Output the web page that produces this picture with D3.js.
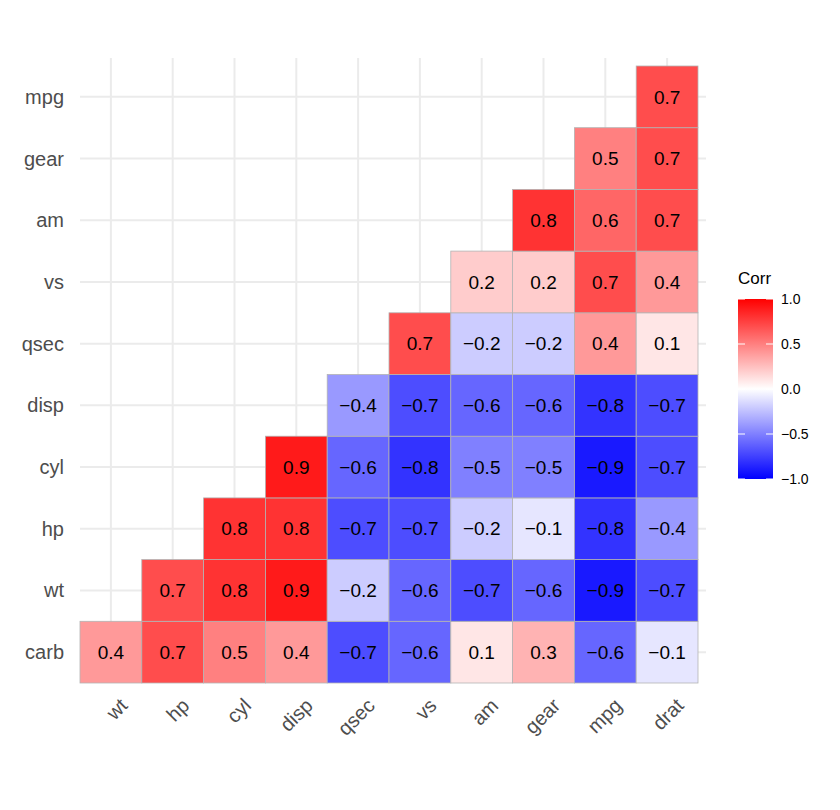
<!DOCTYPE html><html><head><meta charset="utf-8"><script src="https://cdn.jsdelivr.net/npm/d3@7"></script>
<style>body{margin:0;background:#fff}text{font-family:"Liberation Sans",Arial,sans-serif}</style></head><body><svg id="c" width="840" height="810"></svg>
<script>
const xCats=["wt","hp","cyl","disp","qsec","vs","am","gear","mpg","drat"];
const yCats=["carb","wt","hp","cyl","disp","qsec","vs","am","gear","mpg"];
const rowCarb=[0.4,0.7,0.5,0.4,-0.7,-0.6,0.1,0.3,-0.6,-0.1];
const rowWt=[null,0.7,0.8,0.9,-0.2,-0.6,-0.7,-0.6,-0.9,-0.7];
const rowHp=[null,null,0.8,0.8,-0.7,-0.7,-0.2,-0.1,-0.8,-0.4];
const rowCyl=[null,null,null,0.9,-0.6,-0.8,-0.5,-0.5,-0.9,-0.7];
const rowDisp=[null,null,null,null,-0.4,-0.7,-0.6,-0.6,-0.8,-0.7];
const rowQsec=[null,null,null,null,null,0.7,-0.2,-0.2,0.4,0.1];
const rowVs=[null,null,null,null,null,null,0.2,0.2,0.7,0.4];
const rowAm=[null,null,null,null,null,null,null,0.8,0.6,0.7];
const rowGear=[null,null,null,null,null,null,null,null,0.5,0.7];
const rowMpg=[null,null,null,null,null,null,null,null,null,0.7];
const legendTicks=[1,0.5,0,-0.5,-1];
const rows=[rowCarb,rowWt,rowHp,rowCyl,rowDisp,rowQsec,rowVs,rowAm,rowGear,rowMpg];
const cells=[];rows.forEach((r,i)=>r.forEach((v,j)=>{if(v!==null)cells.push({x:xCats[j],y:yCats[i],v});}));
const svg=d3.select("#c");
const L=80,R=698,T=66,B=683;
const x=d3.scaleBand().domain(xCats).range([L,R]);
const y=d3.scaleBand().domain(yCats).range([B,T]);
const col=d3.scaleLinear().domain([-1,0,1]).range(["blue","white","red"]);
const g=svg.append("g");
xCats.forEach(c=>g.append("line").attr("x1",x(c)+x.bandwidth()/2).attr("x2",x(c)+x.bandwidth()/2).attr("y1",T-8).attr("y2",B).attr("stroke","#ebebeb").attr("stroke-width",2));
yCats.forEach(c=>g.append("line").attr("y1",y(c)+y.bandwidth()/2).attr("y2",y(c)+y.bandwidth()/2).attr("x1",L).attr("x2",R+8).attr("stroke","#ebebeb").attr("stroke-width",2));
g.selectAll("rect.c").data(cells).join("rect").attr("x",d=>x(d.x)).attr("y",d=>y(d.y)).attr("width",x.bandwidth()).attr("height",y.bandwidth()).attr("fill",d=>col(d.v)).attr("stroke","#b3b3b3").attr("stroke-width",0.8);
g.selectAll("text.v").data(cells).join("text").attr("x",d=>x(d.x)+x.bandwidth()/2).attr("y",d=>y(d.y)+y.bandwidth()/2).attr("dy","0.35em").attr("text-anchor","middle").attr("font-size",19).text(d=>d3.format(".1f")(d.v));
yCats.forEach(c=>g.append("text").attr("x",64).attr("y",y(c)+y.bandwidth()/2).attr("dy","0.35em").attr("text-anchor","end").attr("font-size",20).attr("fill","#4d4d4d").text(c));
xCats.forEach(c=>g.append("text").attr("transform",`translate(${x(c)+x.bandwidth()/2+8},${B+14}) rotate(-45)`).attr("text-anchor","end").attr("dy","0.7em").attr("font-size",20).attr("fill","#4d4d4d").text(c));
// legend
const defs=svg.append("defs");const gr=defs.append("linearGradient").attr("id","lg").attr("x1",0).attr("x2",0).attr("y1",1).attr("y2",0);
d3.range(0,1.01,0.1).forEach(t=>gr.append("stop").attr("offset",t).attr("stop-color",col(-1+2*t)));
const ly=d3.scaleLinear().domain([-1,1]).range([479,299]);
svg.append("text").attr("x",738).attr("y",284).attr("font-size",17).text("Corr");
svg.append("rect").attr("x",738).attr("y",299).attr("width",35).attr("height",180).attr("fill","url(#lg)");
legendTicks.forEach(t=>{svg.append("line").attr("x1",738).attr("x2",745).attr("y1",ly(t)).attr("y2",ly(t)).attr("stroke","white");svg.append("line").attr("x1",766).attr("x2",773).attr("y1",ly(t)).attr("y2",ly(t)).attr("stroke","white");
svg.append("text").attr("x",781).attr("y",ly(t)).attr("dy","0.35em").attr("font-size",14).text(d3.format(".1f")(t));});
</script></body></html>
